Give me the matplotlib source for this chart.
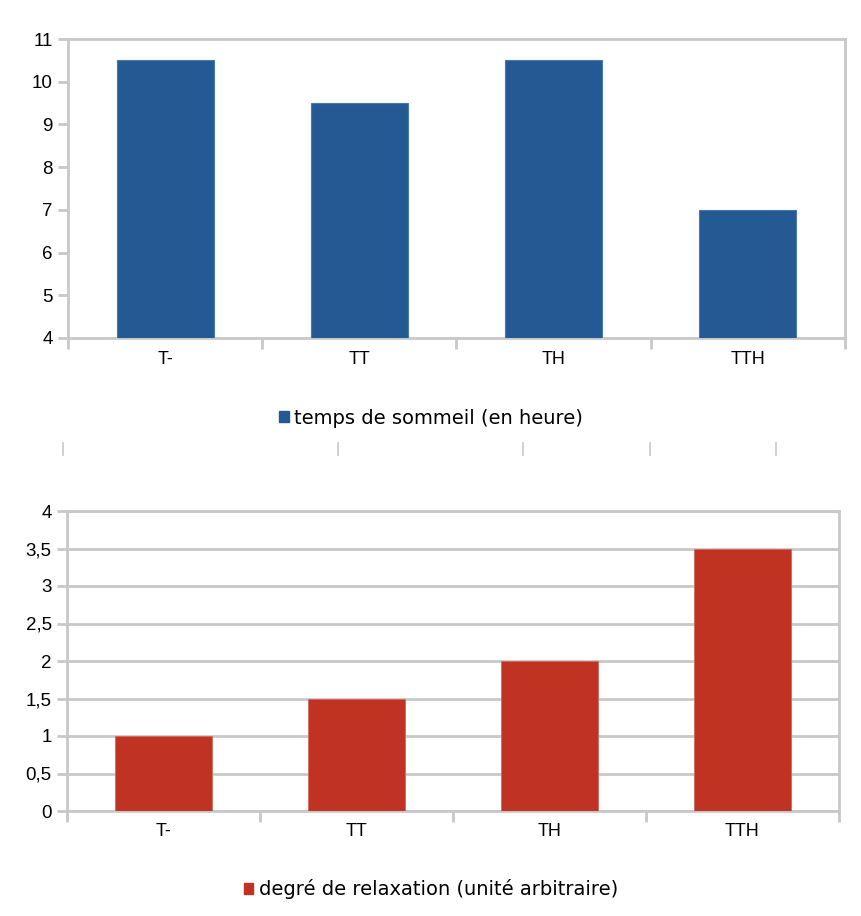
import numpy as np
import matplotlib.pyplot as plt
from matplotlib.lines import Line2D
from matplotlib.patches import Patch

categories = ["T-", "TT", "TH", "TTH"]
sommeil = [10.5, 9.5, 10.5, 7]
relaxation = [1, 1.5, 2, 3.5]
y1_ticks = [4, 5, 6, 7, 8, 9, 10, 11]
y2_ticks = [0, 0.5, 1, 1.5, 2, 2.5, 3, 3.5, 4]
y2_labels = ["0", "0,5", "1", "1,5", "2", "2,5", "3", "3,5", "4"]

blue = "#245a94"
red = "#c03222"
gray = "#c8c8c8"

W, H = 862, 916
fig = plt.figure(figsize=(W / 100, H / 100), dpi=100)

def style_axes(ax, ymin, ymax, yticks, ylabels):
    n = len(categories)
    ax.set_xlim(0, n)
    ax.set_ylim(ymin, ymax)
    for s in ax.spines.values():
        s.set_color(gray)
        s.set_linewidth(2)
    ax.set_yticks(yticks)
    ax.set_yticklabels(ylabels, fontsize=13.5, family="Liberation Sans")
    ax.set_xticks(np.arange(n + 1))
    ax.set_xticklabels([])
    ax.set_xticks(np.arange(n) + 0.5, minor=True)
    ax.set_xticklabels(categories, minor=True, fontsize=13, family="Liberation Sans")
    ax.tick_params(axis="x", which="major", length=8, width=2, color=gray)
    ax.tick_params(axis="x", which="minor", length=0, pad=9)
    ax.tick_params(axis="y", length=7, width=2, color=gray, pad=4)

# top chart
ax1 = fig.add_axes([68 / W, 1 - 338 / H, (845 - 68) / W, (338 - 39) / H])
x = np.arange(len(categories)) + 0.5
ax1.bar(x, sommeil, width=0.5, bottom=0, color=blue, edgecolor="#4a78aa", linewidth=0.8, zorder=3)
style_axes(ax1, 4, 11, y1_ticks, [str(v) for v in y1_ticks])

fig.legend(handles=[Patch(color=blue, label="temps de sommeil (en heure)")],
           loc="center", bbox_to_anchor=(0.5, 1 - 418 / H), frameon=False,
           fontsize=14, handlelength=0.5, handleheight=0.5, handletextpad=0.3)

# stray tick marks between the charts
for px in [63, 338, 523, 650, 776]:
    fig.add_artist(Line2D([px / W, px / W], [1 - 443 / H, 1 - 455 / H],
                          color=gray, linewidth=1.2, transform=fig.transFigure))

# bottom chart
ax2 = fig.add_axes([67 / W, 1 - 811 / H, (839 - 67) / W, (811 - 511) / H])
ax2.bar(x, relaxation, width=0.5, color=red, edgecolor="#d06a5c", linewidth=0.6, zorder=3)
ax2.yaxis.grid(True, color=gray, linewidth=2, zorder=0)
ax2.set_axisbelow(True)
style_axes(ax2, 0, 4, y2_ticks, y2_labels)

fig.legend(handles=[Patch(color=red, label="degré de relaxation (unité arbitraire)")],
           loc="center", bbox_to_anchor=(0.5, 1 - 889 / H), frameon=False,
           fontsize=14, handlelength=0.5, handleheight=0.5, handletextpad=0.3)

fig.savefig("out.png", dpi=100)
